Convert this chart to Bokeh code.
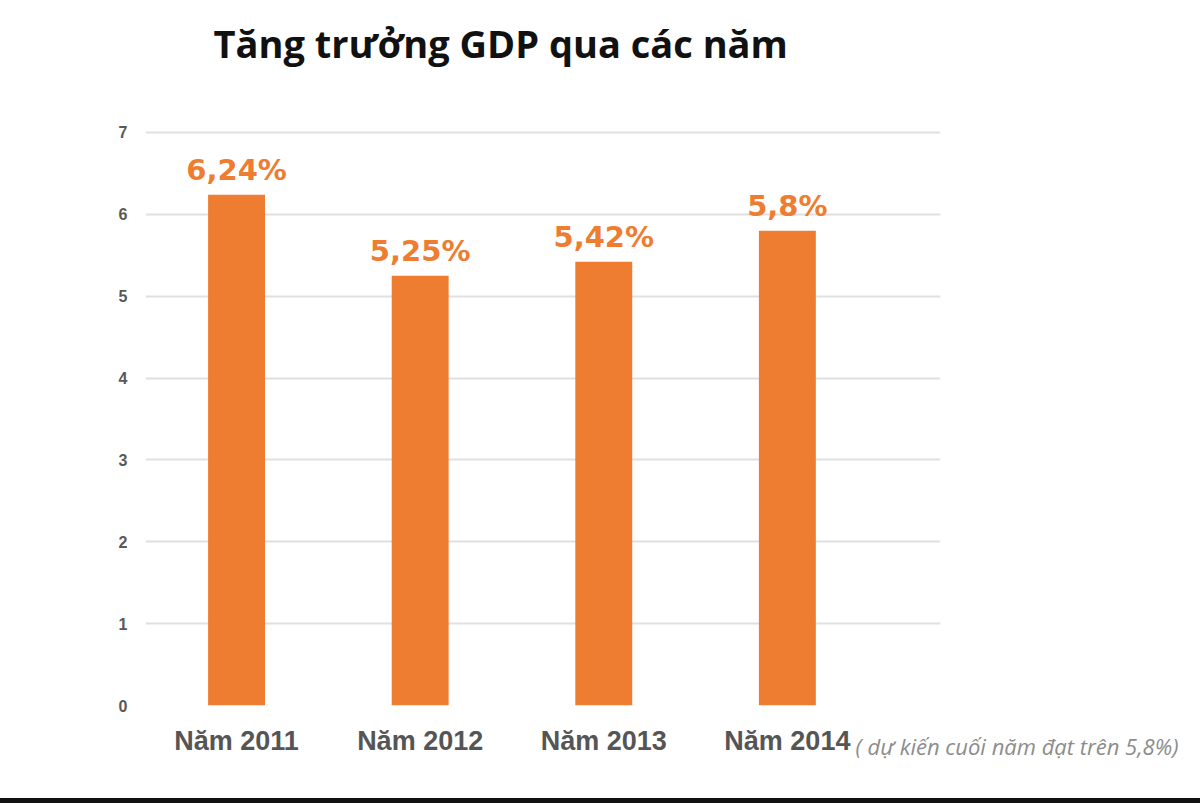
from bokeh.plotting import figure
from bokeh.models import Range1d, FixedTicker, ColumnDataSource, Div, Title
from bokeh.layouts import column
from bokeh.core.properties import value
from bokeh.embed import file_html
from bokeh.resources import INLINE

title_text = "Tăng trưởng GDP qua các năm"
categories = ["Năm 2011", "Năm 2012", "Năm 2013", "Năm 2014"]
growth = [6.24, 5.25, 5.42, 5.8]
value_labels = ["6,24%", "5,25%", "5,42%", "5,8%"]
note_text = "( dự kiến cuối năm đạt trên 5,8%)"
y_ticks = [0, 1, 2, 3, 4, 5, 6, 7]

ORANGE = "#EE7D31"
xs = list(range(len(categories)))

src = ColumnDataSource(dict(x=xs, top=growth, lab=value_labels))

p = figure(width=1200, height=798, output_backend="svg", toolbar_location=None,
           x_range=Range1d(-0.496, 3.834), y_range=Range1d(0, 7.024),
           min_border_left=145, min_border_right=260, min_border_top=130,
           min_border_bottom=93)
p.outline_line_color = None
p.background_fill_color = "white"
p.border_fill_color = "white"

p.vbar(x="x", top="top", width=0.31, bottom=0, source=src,
       fill_color=ORANGE, line_color=None)
p.text(x="x", y="top", text="lab", source=src, y_offset=-8,
       text_align="center", text_baseline="bottom",
       text_font=value("DejaVu Sans"), text_font_style="bold",
       text_font_size="29px", text_color=ORANGE)

# spacer between frame and title (pushes title upward)
p.add_layout(Title(text=" ", text_font_size="10px", standoff=44), "above")

# title
p.title.text = title_text
p.title.align = "left"
p.title.offset = 68
p.title.vertical_align = "bottom"
p.title.standoff = 10
p.title.text_font = "Open Sans"
p.title.text_font_style = "bold"
p.title.text_font_size = "38px"
p.title.text_color = "#111111"

# axes
p.xgrid.grid_line_color = None
p.ygrid.grid_line_color = "#e0e0e0"
p.ygrid.grid_line_width = 2
p.yaxis.ticker = FixedTicker(ticks=y_ticks)
p.xaxis.ticker = FixedTicker(ticks=xs)
p.xaxis.major_label_overrides = {i: c for i, c in enumerate(categories)}
for ax in (p.xaxis[0], p.yaxis[0]):
    ax.axis_line_color = None
    ax.major_tick_line_color = None
    ax.minor_tick_line_color = None
    ax.major_tick_out = 0
    ax.major_tick_in = 0
    ax.minor_tick_out = 0
    ax.major_label_text_font = "Liberation Sans"
    ax.major_label_text_font_style = "bold"
p.xaxis.major_label_text_font_size = "27px"
p.xaxis.major_label_text_color = "#555555"
p.xaxis.major_label_standoff = 20
p.yaxis.major_label_text_font_size = "16px"
p.yaxis.major_label_text_color = "#595959"
p.yaxis.major_label_standoff = 18

# note next to the last category label
note = Title(text=note_text, align="left", offset=710, vertical_align="top",
             standoff=-56, text_font="Open Sans", text_font_style="italic",
             text_font_size="22px", text_color="#8c8c8c")
p.add_layout(note, "below")

bar = Div(width=1200, height=5, margin=(0, 0, 0, 0),
          styles={"background-color": "#111111"})
layout = column(p, bar, spacing=0)

open("out.html", "w").write(file_html(layout, INLINE))
